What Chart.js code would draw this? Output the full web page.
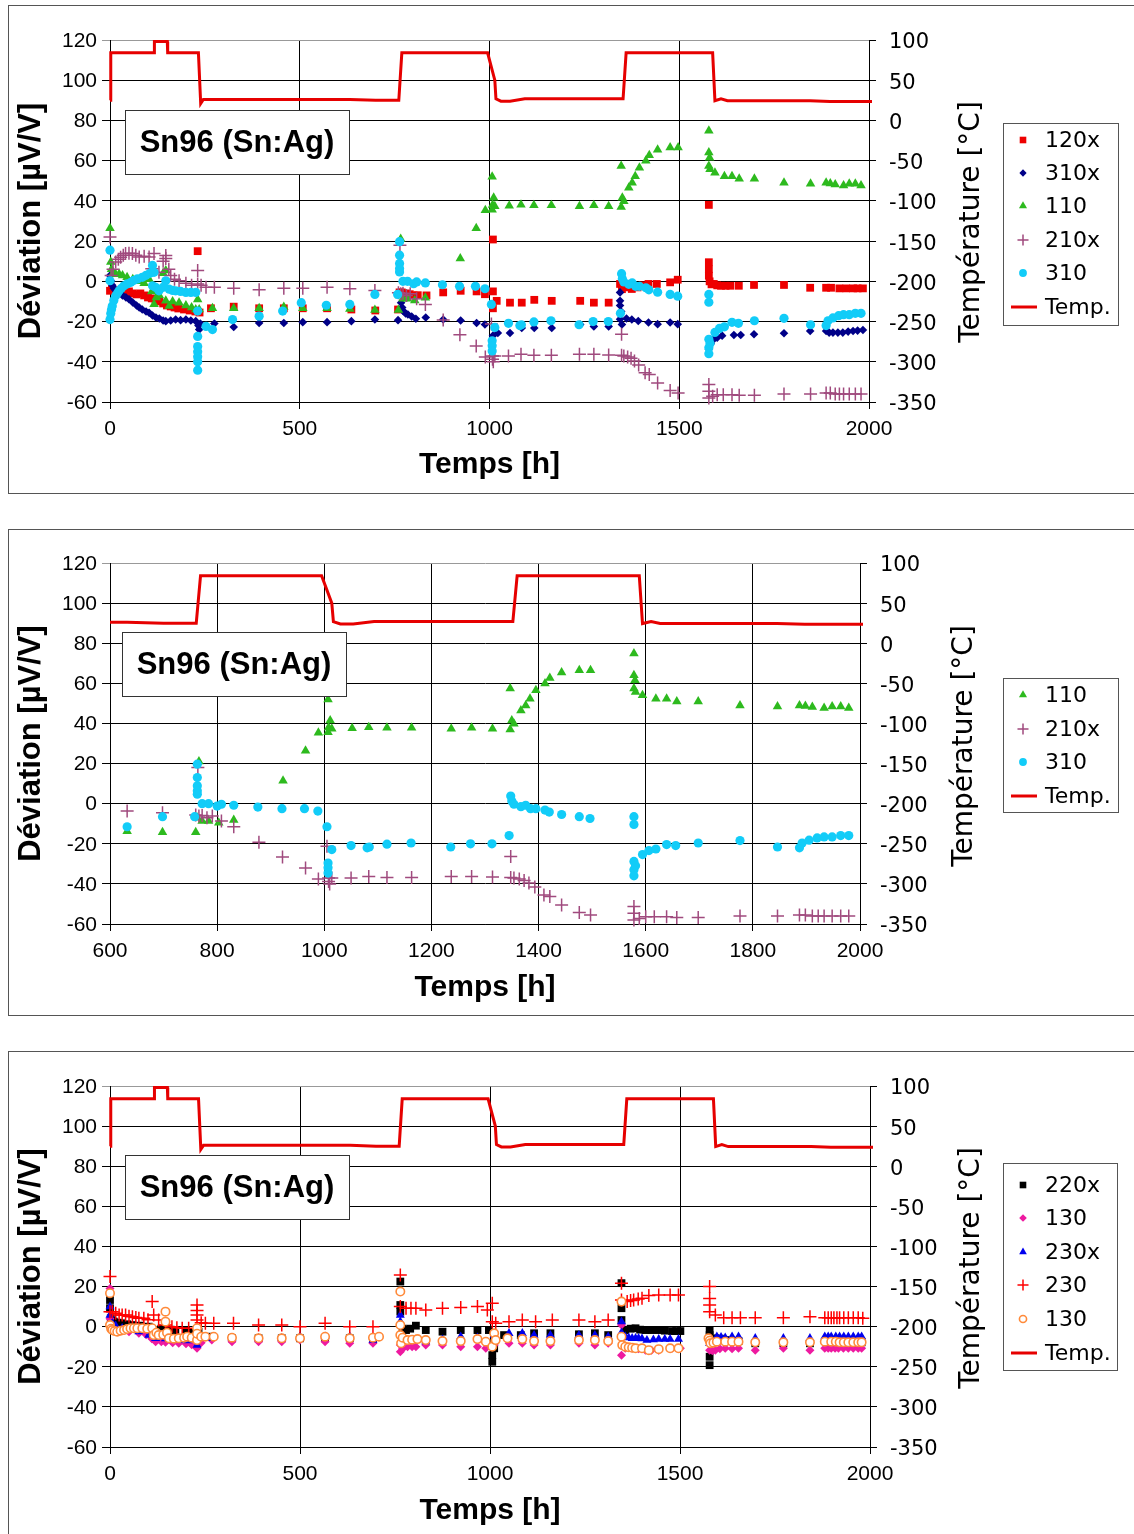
<!DOCTYPE html>
<html>
<head>
<meta charset="utf-8">
<script src="https://cdn.jsdelivr.net/npm/chart.js@4.4.0/dist/chart.umd.min.js"></script>
<style>
  html, body { margin:0; padding:0; background:#fff; overflow:hidden; width:1134px; height:1534px; }
  canvas { position:absolute; left:0; }
  .panel { position:absolute; left:8px; width:1200px; border:1px solid #555; pointer-events:none; }
</style>
</head>
<body>
<canvas id="c1" width="1134" height="523" style="top:0px"></canvas>
<canvas id="c2" width="1134" height="523" style="top:523px"></canvas>
<canvas id="c3" width="1134" height="523" style="top:1046px"></canvas>
<div class="panel" style="top:5px;height:487px"></div>
<div class="panel" style="top:529px;height:485px"></div>
<div class="panel" style="top:1051px;height:500px"></div>
<script>
// ---------------- DATA ----------------
const xTicksFull = [0, 500, 1000, 1500, 2000];
const xTicksZoom = [600, 800, 1000, 1200, 1400, 1600, 1800, 2000];
const yTicks = [-60, -40, -20, 0, 20, 40, 60, 80, 100, 120];
const tTicks = [-350, -300, -250, -200, -150, -100, -50, 0, 50, 100];

const titleText = 'Sn96 (Sn:Ag)';
const xTitle = 'Temps [h]';
const yTitle = 'Déviation [µV/V]';
const y2Title = 'Température [°C]';

// temperature (h, °C)
const tempT = [0, 2, 116, 117, 151, 152, 233, 239, 246, 400, 632, 700, 761, 769, 995, 1014, 1017, 1030, 1054, 1093, 1352, 1360, 1588, 1594, 1610, 1627, 1845, 1897, 2009];
const tempV = [25, 84, 84, 98, 98, 84, 84, 21, 26, 26, 26, 25, 25, 84, 84, 50, 27, 24, 24, 27, 27, 84, 84, 24.5, 27, 24.5, 24.5, 23.5, 23.5];

// [h, µV/V]
const s120x = [[0,-4.7],[5,-4],[12,-5],[20,-4.5],[30,-5],[40,-5.5],[50,-5],[60,-6],[70,-6.5],[80,-6],[90,-7],[100,-8],[110,-8.5],[120,-9],[130,-10],[140,-11],[150,-12],[160,-12.5],[170,-13],[180,-13.5],[195,-14],[210,-14.5],[225,-15],[231,15],[236,-15.5],[266,-13.4],[326,-12.6],[393,-13.4],[458,-13.4],[508,-13.4],[572,-13.4],[636,-14],[699,-14.5],[759,-14],[763,-5.5],[769,-5.5],[780,-6],[790,-6.4],[800,-7],[811,-6.9],[834,-7],[878,-5.5],[924,-4.7],[966,-5],[988,-6.4],[1009,-5],[1009,-13.4],[1009,20.8],[1019,-9.7],[1054,-10.6],[1085,-10.6],[1118,-9.2],[1164,-9.7],[1239,-9.7],[1275,-10.6],[1314,-10.6],[1344,-1.3],[1349,-3.9],[1352,-2],[1360,-3],[1375,-3.8],[1390,-3],[1405,-2],[1419,-1.3],[1441,-1.3],[1476,-0.5],[1496,0.8],[1578,38],[1578,9.5],[1578,6],[1578,2.8],[1580,0],[1585,-1.5],[1591,-1.3],[1600,-2],[1610,-2.2],[1622,-2.2],[1635,-2.2],[1657,-2.2],[1697,-1.8],[1776,-1.8],[1845,-3.2],[1887,-3.2],[1900,-3.2],[1922,-3.5],[1940,-3.5],[1958,-3.5],[1970,-3.5],[1984,-3.5]];

const s310x = [[0,2.9],[3,0],[6,-2],[10,-3.5],[15,-4.5],[24,-5.5],[33,-7],[42,-8],[50,-8.9],[60,-10.5],[70,-12],[77,-13],[85,-14],[95,-15],[103,-15.6],[112,-17],[121,-18],[130,-18.5],[140,-19.5],[147,-19.8],[160,-19.5],[173,-19],[186,-19.3],[200,-19],[213,-19.5],[226,-19.8],[233,-22],[235,-24],[238,-21],[275,-21],[326,-22.7],[393,-20.7],[458,-20.7],[508,-20.3],[572,-20.3],[636,-19.8],[698,-19],[759,-19.3],[767,-10.6],[770,-13],[773,-14.8],[779,-16],[785,-16.5],[795,-17.5],[806,-18.6],[832,-18],[878,-19],[924,-19.5],[966,-20.7],[988,-21.5],[1009,-27],[1022,-25.7],[1054,-25.7],[1085,-23.2],[1118,-23.2],[1164,-23.2],[1239,-21.5],[1275,-22.4],[1314,-22.4],[1344,-18.8],[1344,-5.5],[1344,-9.7],[1344,-12],[1347,-15],[1349,-21.5],[1361,-18.5],[1375,-19],[1392,-19.7],[1419,-20.5],[1443,-21.3],[1476,-20.5],[1496,-21.3],[1578,-33.8],[1583,-31],[1591,-28.8],[1600,-28],[1613,-27],[1644,-26.7],[1662,-26.7],[1697,-26.3],[1776,-25.8],[1845,-24.7],[1887,-24.7],[1895,-25.5],[1905,-25.5],[1918,-25.5],[1931,-25.5],[1945,-25],[1958,-24.7],[1970,-24.5],[1984,-24.2]];

const s110 = [[0,26.4],[2,9.6],[4,6],[8,4],[15,3.5],[24,3.7],[33,2.9],[45,2],[60,1],[75,0],[90,-1],[103,1],[110,-5],[116,-11.4],[122,-8],[130,-7],[140,4],[147,5.4],[147,-9.7],[156,-12.3],[165,-10],[182,-10.6],[200,-12],[215,-13],[226,-14],[231,-9],[235,-14],[270,-13.4],[326,-13.4],[393,-13.4],[458,-12.8],[508,-13.4],[572,-13.4],[632,-13.7],[698,-14.2],[760,-14.2],[763,-7],[766,21],[772,-8.7],[784,-8.7],[803,-9.5],[831,-8.2],[923,11.4],[965,26.4],[989,35.3],[1007,52],[1008,38],[1011,41.5],[1014,37.3],[1007,35.6],[1052,37.6],[1083,38.1],[1117,37.8],[1163,37.8],[1237,37.3],[1275,37.8],[1314,37.3],[1347,37],[1347,57.4],[1350,41.5],[1354,39.8],[1367,46.5],[1376,49],[1384,52.3],[1395,56.5],[1412,59.9],[1421,62.7],[1443,65.4],[1476,66.5],[1497,66.5],[1578,74.9],[1578,64],[1580,61.5],[1578,57.4],[1581,55.7],[1594,54],[1619,52.3],[1639,52.3],[1658,51],[1698,51],[1776,49],[1846,48.5],[1887,49],[1898,48.7],[1911,48.2],[1933,47.7],[1948,48.5],[1964,48.5],[1979,47.7]];

const s210x = [[0,22],[3,2.9],[8,6],[15,9.6],[22,11],[28,12],[35,13],[41,13.8],[50,14],[59,13.8],[68,13],[77,12.1],[90,12.5],[103,12.1],[110,6.2],[116,13.8],[129,4.5],[140,10],[147,12.9],[147,11.3],[155,6],[160,2.9],[170,1],[182,0.3],[200,-1],[215,-2],[231,5.4],[231,-1.3],[240,-2],[253,-3],[275,-3],[326,-3.5],[393,-4.2],[458,-3.5],[508,-3.5],[572,-3],[632,-3.7],[698,-4.5],[760,-5.7],[764,18],[766,-6.2],[772,-5.9],[781,-7],[791,-6.2],[808,-8.7],[831,-11.5],[878,-19.2],[922,-26.6],[965,-32.1],[989,-37.6],[1005,-21.2],[1008,-37.1],[1008,-38.8],[1010,-40],[1014,-37.1],[1050,-37.1],[1083,-36.3],[1117,-36.8],[1163,-36.8],[1237,-36.3],[1275,-36.3],[1314,-36.6],[1348,-26.3],[1348,-36.8],[1354,-37.1],[1364,-37.6],[1373,-38.3],[1382,-39.6],[1393,-41.6],[1410,-45.5],[1421,-46.3],[1443,-50.5],[1476,-54.3],[1497,-55.5],[1578,-51.3],[1578,-54.7],[1578,-58],[1588,-57.2],[1600,-56.4],[1616,-56.4],[1639,-56.4],[1658,-56.7],[1698,-56.7],[1776,-56],[1846,-56],[1887,-55.5],[1898,-55.5],[1911,-56],[1922,-56],[1933,-56],[1948,-56],[1964,-56],[1979,-56]];

const s310 = [[0,15.5],[0,0.3],[0,-19],[2,-16],[4,-14],[6,-12.3],[10,-9.5],[15,-7.2],[20,-5.8],[24,-4.7],[30,-3.5],[37,-2.2],[45,-1.3],[55,-0.5],[63,0.5],[72,1.2],[85,2],[95,3],[105,4],[112,7.9],[116,4.5],[112,-2.2],[120,-3],[129,-4.7],[140,-3],[147,0.3],[156,-3.9],[165,-4.5],[173,-4.7],[186,-5],[200,-5.5],[213,-5.5],[226,-5.5],[231,-14.8],[231,-27.4],[231,-32.4],[231,-35],[231,-37.5],[231,-40],[231,-44.2],[253,-22.4],[270,-24],[323,-19],[393,-17.3],[455,-14.8],[504,-10.6],[570,-11.9],[632,-11.5],[698,-6.5],[758,-6.5],[763,19.7],[763,13],[763,8.9],[763,6.4],[763,4.7],[772,0],[784,0],[800,-1.2],[808,-0.3],[831,-0.8],[876,-1.7],[921,-2.5],[963,-2.5],[988,-3.7],[1005,-11.5],[1007,-29.6],[1007,-32],[1007,-34.6],[1014,-22.9],[1050,-20.9],[1080,-22],[1084,-21.6],[1117,-20.2],[1162,-19.6],[1236,-21.6],[1273,-20],[1313,-20],[1345,-15.9],[1348,3.8],[1350,1.3],[1354,-0.3],[1367,-1.5],[1376,-0.8],[1385,-2.5],[1395,-2.5],[1412,-3.2],[1420,-4.2],[1443,-5.4],[1476,-6.5],[1496,-7.4],[1578,-6.5],[1578,-10.4],[1578,-28.8],[1578,-33],[1578,-36],[1581,-30.9],[1594,-25.4],[1606,-23.4],[1619,-22.6],[1639,-20.4],[1656,-20.9],[1698,-19.6],[1776,-18.4],[1846,-21.6],[1887,-22],[1892,-19.6],[1905,-18.2],[1920,-17.1],[1933,-16.6],[1948,-16.6],[1964,-15.9],[1979,-15.9]];

const s220x = [[0,13.3],[0,9.2],[2,4.2],[6,3],[10,2.5],[20,2],[32,1.7],[45,1.2],[59,0.8],[80,0.5],[102,0],[120,-1.7],[135,-1],[146,-0.8],[160,-1.5],[172,-1.7],[200,-2],[220,-3],[229,-8.3],[233,-2.5],[268,-5],[321,-5.8],[391,-5.8],[452,-5.8],[500,-5.8],[566,-5.8],[631,-5.8],[692,-6.7],[764,22.5],[764,10.8],[764,7.5],[770,-1],[779,-1.7],[790,-1],[805,0.5],[831,-1.7],[875,-2.5],[923,-1.7],[967,-1.7],[997,-1.7],[1006,-17.5],[1006,-14.2],[1011,-10.8],[1037,-4.2],[1081,-4.2],[1116,-3.3],[1159,-3.3],[1234,-3.8],[1276,-3.3],[1311,-4.2],[1346,21.7],[1346,9.2],[1346,3.3],[1356,-1.7],[1370,-1],[1383,-0.8],[1395,-1.5],[1409,-1.7],[1425,-1.7],[1444,-1.7],[1460,-2],[1479,-2.2],[1490,-2.2],[1501,-2.2],[1578,-19.2],[1578,-15],[1578,-4.2],[1578,-1.7],[1593,-5.8],[1605,-6],[1619,-6.7],[1635,-7],[1654,-7.2],[1698,-8.3],[1772,-8.3],[1842,-8.3],[1890,-7.8],[1905,-7.8],[1917,-7.8],[1930,-7.8],[1943,-7.8],[1956,-7.8],[1969,-7.8],[1978,-7.8]];

const s130 = [[0,19],[0,4],[6,-0.8],[15,-1.5],[32,-1.7],[50,-2.5],[76,-3.3],[95,-4],[110,-6],[120,-7.5],[135,-7.5],[146,-7.8],[165,-8],[181,-8.3],[200,-8.5],[215,-9],[229,-10.8],[240,-8],[268,-6.7],[321,-7.5],[391,-7.5],[452,-7.5],[500,-6.7],[566,-7.5],[631,-8.3],[692,-8.3],[764,-12.5],[764,-9.2],[770,-11],[783,-10],[795,-10],[805,-10],[831,-9.2],[875,-9.2],[923,-10],[967,-10],[989,-10.8],[1011,-9.2],[1050,-8.3],[1085,-8.3],[1116,-9.2],[1159,-9.2],[1234,-8.3],[1276,-9.2],[1311,-8.3],[1346,-14.2],[1346,0.8],[1356,-10.8],[1374,-10.8],[1391,-11],[1409,-11.7],[1425,-11.7],[1444,-11.7],[1479,-10.8],[1501,-10.8],[1578,-11.7],[1585,-12],[1593,-11.7],[1605,-11],[1619,-10.8],[1637,-11],[1654,-10.8],[1698,-11.7],[1772,-10.8],[1842,-11.7],[1881,-10.8],[1890,-10.8],[1898,-10.8],[1908,-10.8],[1917,-10.8],[1930,-10.8],[1943,-10.8],[1956,-10.8],[1969,-10.8],[1978,-10.8]];

const s230x = [[0,5.8],[0,10],[6,1.7],[15,0.5],[32,-0.8],[50,-1.5],[76,-2.5],[102,-4.2],[120,-5.8],[146,-6],[165,-6.5],[181,-6.7],[205,-7],[229,-9.2],[268,-5.8],[321,-5.8],[391,-5.8],[452,-5.8],[500,-5],[566,-5],[631,-5],[692,-6.7],[764,5.8],[764,2.5],[770,-5],[783,-6.7],[805,-6.7],[831,-7.5],[875,-6.5],[923,-5],[967,-5.5],[1011,-4.2],[1050,-3.3],[1085,-3.3],[1116,-4.2],[1159,-4.2],[1234,-4.2],[1276,-4.2],[1311,-5],[1346,2.5],[1346,-3],[1356,-5],[1365,-5.5],[1374,-5.8],[1383,-5.8],[1391,-5.8],[1400,-6],[1413,-6.7],[1430,-6.5],[1444,-6.2],[1460,-6.2],[1474,-6.2],[1496,-6.2],[1578,-8.3],[1597,-5],[1608,-5.2],[1619,-5.5],[1637,-5],[1654,-5],[1698,-5.8],[1772,-5.8],[1842,-5.8],[1881,-5],[1890,-5],[1898,-5],[1910,-5],[1920,-5],[1931,-5],[1943,-5],[1956,-5],[1969,-5],[1978,-5]];

const s230 = [[0,25],[0,7.5],[6,7.5],[15,6.7],[24,5.8],[32,5.8],[41,5.8],[50,5.2],[59,5],[68,4.6],[76,4.2],[89,4.2],[100,3.5],[111,12.5],[115,5.8],[128,3.3],[146,0.8],[163,0],[176,-0.5],[190,-0.8],[207,-0.8],[229,10.8],[229,8],[229,5.8],[229,3.3],[240,2],[251,1.7],[273,1.7],[325,1.7],[391,0.8],[452,0.8],[500,0],[566,1.7],[631,0],[692,0],[764,25.8],[764,10],[779,9.2],[792,9.2],[805,9.2],[831,8.3],[875,9.2],[923,9.5],[967,10],[993,8.3],[1006,11.7],[1006,2.5],[1015,1.7],[1050,2.5],[1085,3.3],[1120,2.5],[1164,3.3],[1234,3.3],[1276,2.5],[1311,3.3],[1346,21.7],[1346,13.3],[1361,12.5],[1370,13],[1378,13.3],[1390,13.8],[1400,14.2],[1418,15.5],[1444,15.8],[1474,15.8],[1496,15.8],[1578,20],[1578,14],[1578,10.8],[1578,7.5],[1593,5.8],[1615,4.5],[1637,4.5],[1659,4.5],[1698,4.5],[1772,4.5],[1842,5],[1881,4.5],[1890,4.5],[1898,4.5],[1905,4.5],[1913,4.5],[1920,4.5],[1931,4.5],[1943,4.5],[1956,4.5],[1969,4.5],[1981,4.2]];

const s130b = [[0,16.7],[0,0.8],[3,-1],[6,-1.7],[12,-2.2],[19,-2.5],[28,-2],[37,-1.7],[45,-1.2],[54,-0.8],[63,-0.8],[72,-0.8],[85,-0.8],[98,-1],[111,-0.8],[115,-4.2],[122,-3],[128,-4.2],[140,-4],[146,7.5],[146,2.5],[150,-3],[155,-5.8],[168,-6],[181,-5.8],[195,-5.5],[203,-5],[215,-5.5],[229,-6.7],[229,-0.8],[229,-3.5],[240,-5],[251,-5],[273,-5],[321,-5.5],[391,-5.8],[452,-5.8],[500,-5.8],[566,-5],[631,-5.8],[692,-5.5],[708,-5],[764,17.5],[764,0.8],[764,-4.2],[766,-8.3],[770,-5.5],[783,-6.7],[795,-6.5],[809,-6.2],[831,-6.7],[875,-7.2],[923,-7.2],[967,-6.2],[989,-7.5],[1006,-10],[1011,-3.3],[1015,-6.7],[1046,-5.8],[1085,-6.2],[1116,-7.2],[1159,-7.2],[1234,-6.7],[1276,-6.7],[1311,-7.2],[1346,12.5],[1346,-5],[1348,-9.2],[1356,-10],[1365,-10.3],[1374,-10.5],[1383,-10.8],[1400,-10.8],[1418,-11.7],[1444,-11.2],[1474,-10.8],[1496,-10.8],[1575,-5.8],[1578,-7],[1580,-8.3],[1588,-8],[1597,-7.5],[1619,-7.5],[1637,-7.5],[1654,-7.5],[1698,-7.8],[1772,-7.8],[1842,-7.8],[1881,-7.5],[1898,-7.5],[1910,-7.5],[1920,-7.8],[1931,-7.8],[1943,-7.8],[1956,-7.8],[1969,-7.8],[1978,-7.8]];

// ---------------- STYLES ----------------
const ST = {
  '120x':  {pointStyle:'rect',     radius:5.5, bg:'#EE0000', border:'#EE0000', bw:0},
  '310x':  {pointStyle:'rectRot',  radius:4.3, bg:'#000088', border:'#000088', bw:0},
  '110':   {pointStyle:'triangle', radius:5.5, bg:'#2DBA1E', border:'#2DBA1E', bw:0},
  '210x':  {pointStyle:'cross',    radius:6.5, bg:'#A04A7E', border:'#A04A7E', bw:1.5},
  '310':   {pointStyle:'circle',   radius:4.6, bg:'#12CCF8', border:'#12CCF8', bw:0},
  '220x':  {pointStyle:'rect',     radius:5.5, bg:'#000000', border:'#000000', bw:0},
  '130':   {pointStyle:'rectRot',  radius:4.5, bg:'#EE1AA0', border:'#EE1AA0', bw:0},
  '230x':  {pointStyle:'triangle', radius:5.2, bg:'#0000EE', border:'#0000EE', bw:0},
  '230':   {pointStyle:'cross',    radius:6.5, bg:'#FF0000', border:'#FF0000', bw:1.5},
  '130b':  {pointStyle:'circle',   radius:4.2, bg:'#FFFFFF', border:'#FF8A3A', bw:1.6}
};
const TEMP_COLOR = '#E60000';
const F_HELV = '"Liberation Sans", Arial, Helvetica, sans-serif';
const F_LUC = '"DejaVu Sans", "Open Sans", sans-serif';

function pts(arr){ return arr.map(p => ({x:p[0], y:p[1]})); }
function tempPts(){ return tempT.map((t,i) => ({x:t, y:tempV[i]})); }

function drawMarker(ctx, st, x, y, scale){
  const o = {pointStyle: st.pointStyle, radius: st.radius*scale, borderWidth: st.bw, rotation: 0};
  ctx.save();
  ctx.fillStyle = st.bg; ctx.strokeStyle = st.border; ctx.lineWidth = st.bw;
  Chart.helpers.drawPoint(ctx, o, x, y);
  ctx.restore();
}

const decor = {
  id: 'decor',
  afterDraw(chart, args, opts){
    const ctx = chart.ctx;
    ctx.save();
    // title box
    const b = opts.titleBox;
    ctx.fillStyle = '#fff';
    ctx.fillRect(b[0], b[1], b[2]-b[0], b[3]-b[1]);
    ctx.strokeStyle = '#333'; ctx.lineWidth = 1;
    ctx.strokeRect(b[0]+0.5, b[1]+0.5, b[2]-b[0], b[3]-b[1]);
    ctx.fillStyle = '#000';
    ctx.font = 'bold 31px ' + F_HELV;
    ctx.textAlign = 'center'; ctx.textBaseline = 'middle';
    ctx.fillText(titleText, (b[0]+b[2])/2, (b[1]+b[3])/2 + 1);
    // right title
    ctx.save();
    ctx.translate(opts.rtX, opts.rtY);
    ctx.rotate(-Math.PI/2);
    ctx.font = '28px ' + F_LUC;
    ctx.textAlign = 'center'; ctx.textBaseline = 'middle';
    ctx.fillText(y2Title, 0, 0);
    ctx.restore();
    // legend
    const L = opts.legendBox;
    ctx.fillStyle = '#fff';
    ctx.fillRect(L[0], L[1], L[2]-L[0], L[3]-L[1]);
    ctx.strokeStyle = '#555'; ctx.lineWidth = 1;
    ctx.strokeRect(L[0]+0.5, L[1]+0.5, L[2]-L[0], L[3]-L[1]);
    ctx.font = '22px ' + F_LUC;
    ctx.textAlign = 'left'; ctx.textBaseline = 'middle';
    opts.items.forEach((it, i) => {
      const y = opts.rows[i];
      if (it.key === 'temp') {
        ctx.strokeStyle = TEMP_COLOR; ctx.lineWidth = 3;
        ctx.beginPath(); ctx.moveTo(1011, y); ctx.lineTo(1037, y); ctx.stroke();
      } else {
        drawMarker(ctx, ST[it.key], 1023, y, 0.85);
      }
      ctx.fillStyle = '#000';
      ctx.fillText(it.label, 1045, y + 1);
    });
    ctx.restore();
  }
};

function makeChart(id, cfg){
  const H = 523;
  const datasets = [];
  datasets.push({
    label: 'Temp.', data: tempPts(), yAxisID:'y2', xAxisID:'x',
    showLine:true, borderColor:TEMP_COLOR, backgroundColor:TEMP_COLOR, borderWidth:3,
    pointRadius:0, tension:0, order:0,
    clip: {left: cfg.tempClipLeft, top: 3, right: 3, bottom: 3}
  });
  cfg.series.forEach((s, i) => {
    const st = ST[s.key];
    datasets.push({
      label: s.label, data: pts(s.data), yAxisID:'y', xAxisID:'x',
      showLine:false, pointStyle: st.pointStyle, pointRadius: st.radius,
      pointBackgroundColor: st.bg, pointBorderColor: st.border, pointBorderWidth: st.bw,
      backgroundColor: st.bg, borderColor: st.border,
      order: cfg.series.length - i, clip: 7
    });
  });
  return new Chart(document.getElementById(id), {
    type:'scatter',
    data:{datasets},
    plugins:[decor],
    options:{
      responsive:false, animation:false, devicePixelRatio:1,
      layout:{padding:{top:40, left:0, right:0, bottom:0}},
      plugins:{
        legend:{display:false}, tooltip:{enabled:false},
        decor:{titleBox:cfg.titleBox, legendBox:cfg.legendBox, rows:cfg.rows, items:cfg.items, rtX:cfg.rtX, rtY:cfg.rtY}
      },
      scales:{
        x:{
          type:'linear', position:'bottom', min:cfg.xMin, max:cfg.xMax,
          afterBuildTicks: s => { s.ticks = cfg.xTicks.map(v => ({value:v})); },
          afterFit: s => { s.height = H - cfg.areaBottom; },
          ticks:{ callback: v => String(v), font:{family:F_HELV, size:21}, color:'#000', padding:8, maxRotation:0, autoSkip:false },
          grid:{ color:'#000', lineWidth:1, tickLength:7, drawTicks:true },
          border:{ display:true, color:'#000', width:1 },
          title:{ display:true, text:xTitle, color:'#000', font:{family:F_HELV, size:30, weight:'bold', lineHeight:1.2}, padding:{top:0, bottom:40} }
        },
        y:{
          type:'linear', position:'left', min:-60, max:120,
          afterBuildTicks: s => { s.ticks = yTicks.map(v => ({value:v})); },
          afterFit: s => { s.width = 110; },
          ticks:{ callback: v => String(v), font:{family:F_HELV, size:21}, color:'#000', padding:5, labelOffset:1 },
          grid:{ color: c => (c.tick && c.tick.value === 120) ? '#999' : '#000', lineWidth:1, tickLength:8 },
          border:{ display:true, color:'#000', width:1 },
          title:{ display:true, text:yTitle, color:'#000', font:{family:F_HELV, size:31, weight:'bold', lineHeight:1.2}, padding:{top:13, bottom:0} }
        },
        y2:{
          type:'linear', position:'right', min:-350, max:100,
          afterBuildTicks: s => { s.ticks = tTicks.map(v => ({value:v})); },
          afterFit: s => { s.width = 1134 - cfg.right; },
          ticks:{ callback: v => String(v), font:{family:F_LUC, size:21}, color:'#000', padding:13, labelOffset:3 },
          grid:{ drawOnChartArea:false, color:'#000', lineWidth:1, tickLength:7 },
          border:{ display:true, color:'#000', width:1 }
        }
      }
    }
  });
}

const seriesA = [
  {key:'120x', label:'120x', data:s120x},
  {key:'310x', label:'310x', data:s310x},
  {key:'110',  label:'110',  data:s110},
  {key:'210x', label:'210x', data:s210x},
  {key:'310',  label:'310',  data:s310}
];
const seriesB = [
  {key:'110',  label:'110',  data:s110},
  {key:'210x', label:'210x', data:s210x},
  {key:'310',  label:'310',  data:s310}
];
const seriesC = [
  {key:'220x', label:'220x', data:s220x},
  {key:'130',  label:'130',  data:s130},
  {key:'230x', label:'230x', data:s230x},
  {key:'230',  label:'230',  data:s230},
  {key:'130b', label:'130',  data:s130b}
];
function legendItems(series){ return series.map(s => ({key:s.key, label:s.label})).concat([{key:'temp', label:'Temp.'}]); }

makeChart('c1', {
  xMin:0, xMax:2000, xTicks:xTicksFull, areaBottom:402, right:869, tempClipLeft:3,
  series:seriesA, items:legendItems(seriesA),
  titleBox:[125,110,349,174], legendBox:[1003,123,1118,325], rows:[140,173,206,240,273,307],
  rtX:972, rtY:222
});
makeChart('c2', {
  xMin:600, xMax:2000, xTicks:xTicksZoom, areaBottom:401, right:860, tempClipLeft:0,
  series:seriesB, items:legendItems(seriesB),
  titleBox:[122,109,346,173], legendBox:[1003,155,1118,289], rows:[172,206,239,273],
  rtX:965, rtY:223
});
makeChart('c3', {
  xMin:0, xMax:2000, xTicks:xTicksFull, areaBottom:401, right:870, tempClipLeft:3,
  series:seriesC, items:legendItems(seriesC),
  titleBox:[125,109,349,173], legendBox:[1003,117,1117,324], rows:[139,172,206,239,273,307],
  rtX:972, rtY:222
});
</script>
</body>
</html>
